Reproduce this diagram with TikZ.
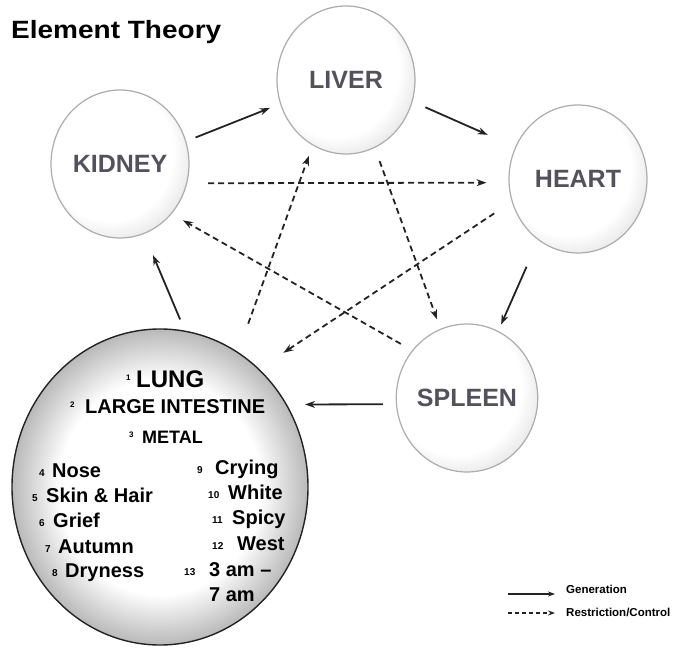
\documentclass[tikz,border=0pt]{standalone}
\usepackage{fontspec}
\usepackage{graphicx}
\setmainfont{Liberation Sans}
\usetikzlibrary{shapes.geometric,arrows.meta}
\definecolor{rimgray}{RGB}{210,210,210}
\definecolor{lungrim}{RGB}{185,185,185}
\definecolor{labelgray}{RGB}{82,82,94}
\definecolor{edgegray}{RGB}{172,172,172}
\definecolor{darkline}{RGB}{35,35,35}
\pgfdeclareradialshading{ballshade}{\pgfpoint{-7bp}{7bp}}{color(0bp)=(white); color(23bp)=(white); color(36bp)=(rimgray); color(50bp)=(rimgray)}
\pgfdeclareradialshading{lungshade}{\pgfpointorigin}{color(0bp)=(white); color(17bp)=(white); color(25bp)=(lungrim); color(50bp)=(lungrim)}
\begin{document}
\begin{tikzpicture}[x=1pt,y=-1pt,
  organ/.style={ellipse, draw=edgegray, line width=1.2pt, minimum width=138pt, minimum height=148pt,
    inner sep=0pt, shade, shading=ballshade, text=labelgray, font=\fontsize{25}{25}\selectfont\bfseries},
  lungorgan/.style={ellipse, draw=darkline, line width=1.4pt, minimum width=296pt, minimum height=316pt,
    inner sep=0pt, shade, shading=lungshade},
  gen/.style={draw=darkline, line width=1.8pt, -{Stealth[length=10pt,width=7pt]}},
  ctrl/.style={gen, dash pattern=on 6pt off 4pt},
  lt/.style={anchor=base west, inner sep=0pt, font=\fontsize{20}{20}\selectfont\bfseries},
  ln/.style={anchor=base west, inner sep=0pt, font=\fontsize{10}{10}\selectfont\bfseries},
  ls/.style={anchor=base west, inner sep=0pt, font=\fontsize{8}{8}\selectfont\bfseries},
  legtext/.style={anchor=west, inner sep=0pt, font=\fontsize{11.5}{11.5}\selectfont\bfseries}]
\useasboundingbox (0,0) rectangle (694,650);

% title
\node[anchor=base west, inner sep=0pt, font=\fontsize{25}{25}\selectfont\bfseries] (title) at (11,39) {\scalebox{1.12}[1]{Element Theory}};

% organs
\node[organ] (liver) at (346,80) {LIVER};
\node[organ] (kidney) at (120,164) {KIDNEY};
\node[organ] (heart) at (578,179) {HEART};
\node[organ] (spleen) at (467,398) {SPLEEN};
\node[lungorgan] (lung) at (160,487) {};

% generation cycle
\draw[gen, shorten <=10pt, shorten >=11pt] (kidney.19.6) -- (liver.200.1);
\draw[gen, shorten <=14pt, shorten >=30pt] (liver.342.1) -- (heart.153.1);
\draw[gen, shorten <=29pt, shorten >=7pt] (heart.237.8) -- (spleen.65.8);
\draw[gen, shorten <=13pt, shorten >=18pt] (spleen.185.8) -- (lung.33);
\draw[gen, shorten <=12pt, shorten >=23pt] (lung.81) -- (kidney.289.1);

% control cycle
\draw[ctrl, shorten <=21pt, shorten >=22pt] (kidney.344.1) -- (heart.183.3);
\draw[ctrl, shorten <=14pt, shorten >=10pt] (liver.293.7) -- (spleen.111.2);
\draw[ctrl, shorten <=21pt, shorten >=29pt] (heart.199.1) -- (lung.50.7);
\draw[ctrl, shorten <=13pt, shorten >=13pt] (spleen.139.1) -- (kidney.316.1);
\draw[ctrl, shorten <=30pt, shorten >=11pt] (lung.60.6) -- (liver.243.9);

% lung contents
\node[ls] (n1) at (126,380) {1};
\node[anchor=base west, inner sep=0pt, font=\fontsize{24}{24}\selectfont\bfseries] (w1) at (136,387) {LUNG};
\node[ls] (n2) at (70,407) {2};
\node[lt] (w2) at (85,413) {LARGE INTESTINE};
\node[ls] (n3) at (129,437) {3};
\node[anchor=base west, inner sep=0pt, font=\fontsize{18}{18}\selectfont\bfseries] (w3) at (142,443) {METAL};

\node[ln] (n4) at (39,476) {4};
\node[lt] (w4) at (52,477) {Nose};
\node[ln] (n5) at (32,501) {5};
\node[lt] (w5) at (46,502) {Skin \& Hair};
\node[ln] (n6) at (39,526) {6};
\node[lt] (w6) at (53,527) {Grief};
\node[ln] (n7) at (45,552) {7};
\node[lt] (w7) at (58,553) {Autumn};
\node[ln] (n8) at (52,576) {8};
\node[lt] (w8) at (65,577) {Dryness};

\node[ln] (n9) at (197,473) {9};
\node[lt] (w9) at (215,474) {Crying};
\node[ln] (n10) at (208,498) {10};
\node[lt] (w10) at (228,499) {White};
\node[ln] (n11) at (212,523) {11};
\node[lt] (w11) at (232,524) {Spicy};
\node[ln] (n12) at (212,549) {12};
\node[lt] (w12) at (237,550) {West};
\node[ln] (n13) at (184,575) {13};
\node[lt] (w13) at (209,576) {3 am –};
\node[lt] (w13b) at (209,601) {7 am};

% legend
\coordinate (gA) at (508,594);
\coordinate (gB) at (555,594);
\coordinate (cA) at (508,613);
\coordinate (cB) at (555,613);
\draw[draw=darkline, line width=1.3pt, -{Stealth[length=7pt,width=5pt]}] (gA) -- (gB);
\draw[draw=darkline, line width=1.3pt, dash pattern=on 4pt off 3pt, -{Stealth[length=7pt,width=5pt]}] (cA) -- (cB);
\node[legtext] (lg1) at (566,589) {Generation};
\node[legtext] (lg2) at (566,612) {Restriction/Control};
\end{tikzpicture}
\end{document}
